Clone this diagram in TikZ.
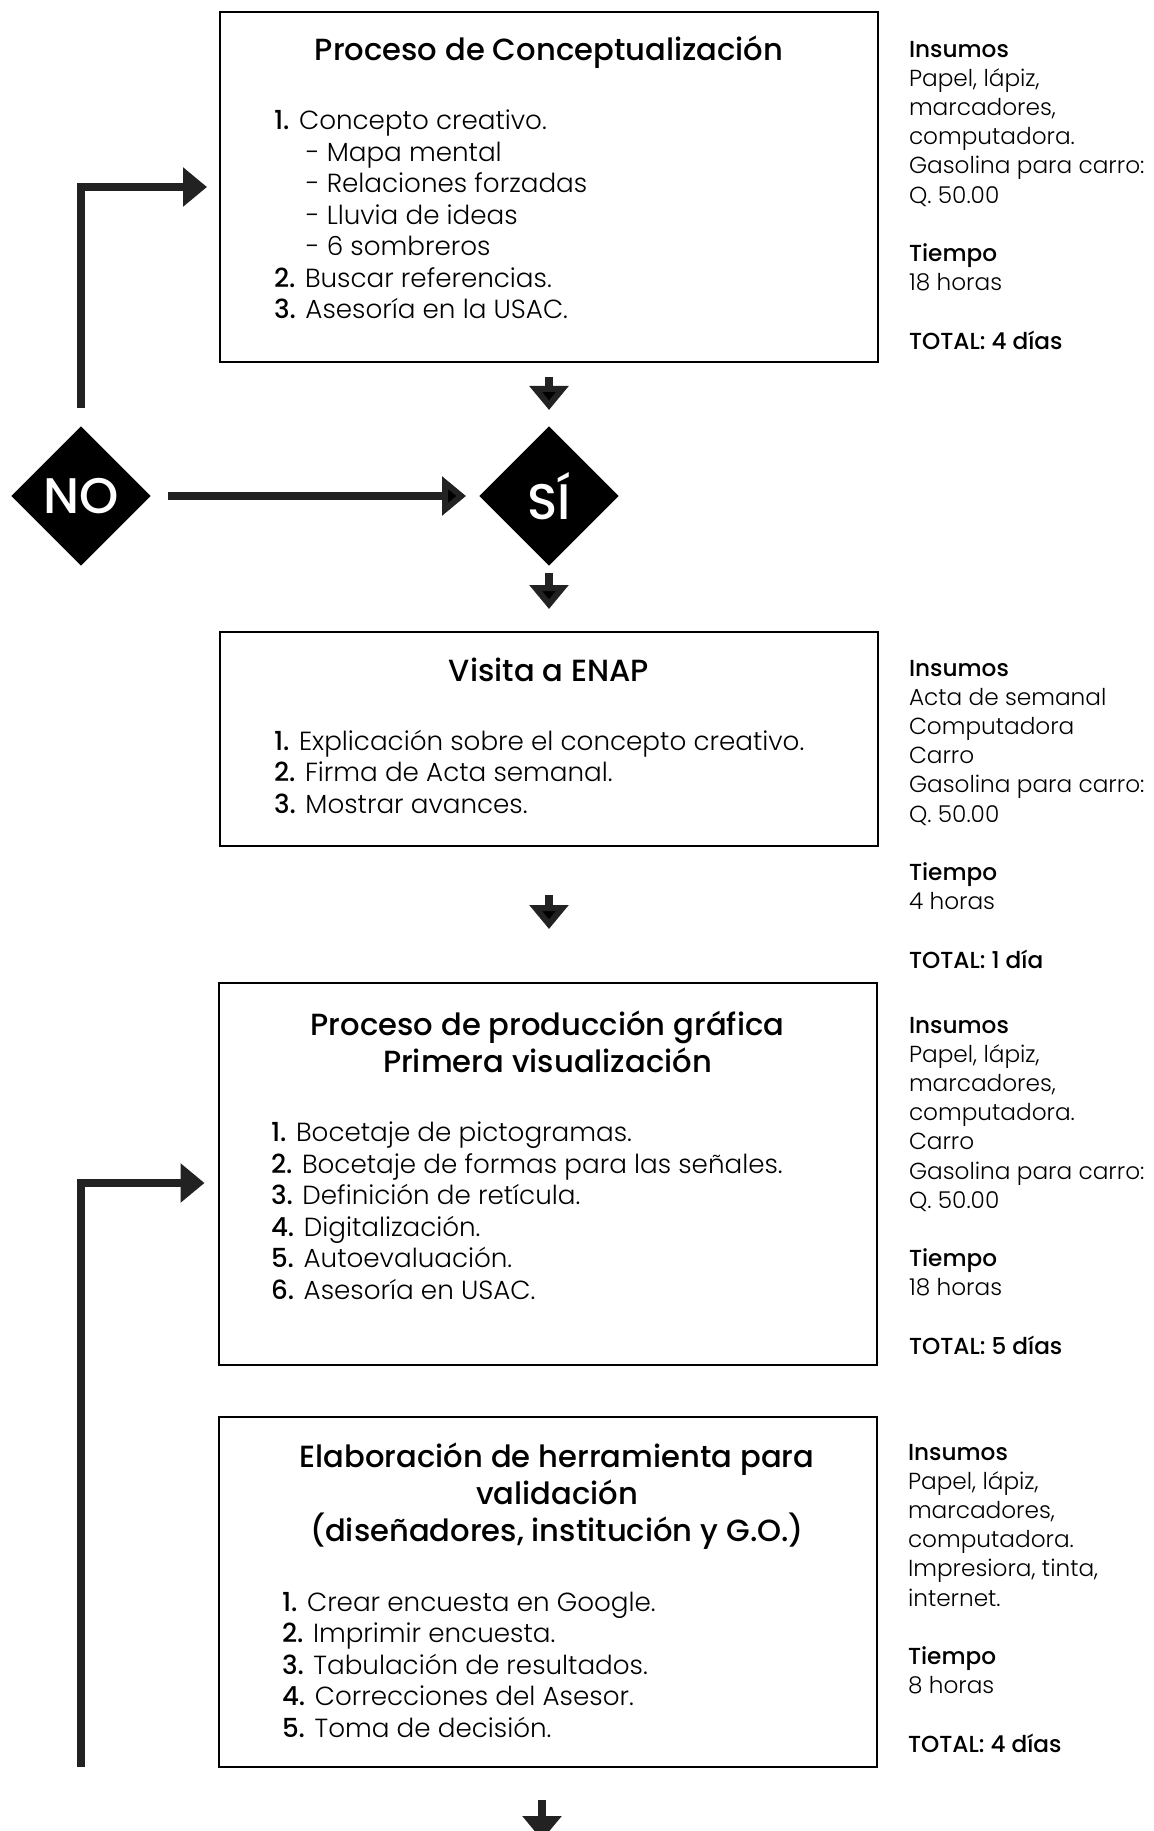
\documentclass[tikz,border=0pt]{standalone}
\usepackage{fontspec}
\setmainfont{Poppins}[UprightFont=* Light, BoldFont=* Medium]
\usetikzlibrary{arrows.meta,positioning,shapes.geometric}
\definecolor{flechagris}{HTML}{222222}

\begin{document}
\begin{tikzpicture}[x=0.5pt, y=-0.5pt, line width=1pt,
  caja/.style={draw, rectangle, minimum width=329pt, inner sep=0pt},
  titulo/.style={font=\fontsize{15.3}{18.5}\selectfont\bfseries, align=center},
  lista/.style={font=\fontsize{13.1}{15.75}\selectfont, align=left, anchor=north west, inner sep=0pt},
  info/.style={font=\fontsize{11.6}{14.6}\selectfont, align=left, anchor=north west, inner sep=0pt},
  decision/.style={diamond, aspect=1, fill=black, text=white, minimum size=70pt, inner sep=0pt, font=\fontsize{25}{25}\selectfont\bfseries},
  flecha/.style={-{Triangle[length=12pt,width=19pt]}, draw=flechagris, line width=4.25pt}]

  \useasboundingbox (0,0) rectangle (1153,1831);

  % cajas
  \node[caja, minimum height=175pt] (concepto) at (549,187) {};
  \node[caja, minimum height=107pt] (visita) at (549,739) {};
  \node[caja, minimum height=191pt] (produccion) at (547.5,1174) {};
  \node[caja, minimum height=175pt] (elaboracion) at (547.5,1592) {};

  \node[decision] (no) at (81,496) {NO};
  \node[decision] (si) at (549,496) {SÍ};

  \coordinate (retorno) at (81,1767);
  \coordinate (siguiente) at (542,1840);

  % titulos
  \node[titulo] at ([yshift=-20.5pt]concepto.north) {Proceso de Conceptualización};
  \node[titulo] at ([yshift=-19.5pt]visita.north) {Visita a ENAP};
  \node[titulo] at ([yshift=-30pt]produccion.north) {Proceso de producción gráfica\\Primera visualización};
  \node[titulo] at ([xshift=4.75pt,yshift=-40pt]elaboracion.north) {Elaboración de herramienta para\\validación\\(diseñadores, institución y G.O.)};

  % listas
  \node[lista] at (273,109) {\textbf{1.} Concepto creativo.\\
    \hspace*{16pt}- Mapa mental\\
    \hspace*{16pt}- Relaciones forzadas\\
    \hspace*{16pt}- Lluvia de ideas\\
    \hspace*{16pt}- 6 sombreros\\
    \textbf{2.} Buscar referencias.\\
    \textbf{3.} Asesoría en la USAC.};
  \node[lista] at (273,729) {\textbf{1.} Explicación sobre el concepto creativo.\\
    \textbf{2.} Firma de Acta semanal.\\
    \textbf{3.} Mostrar avances.};
  \node[lista] at (270,1121) {\textbf{1.} Bocetaje de pictogramas.\\
    \textbf{2.} Bocetaje de formas para las señales.\\
    \textbf{3.} Definición de retícula.\\
    \textbf{4.} Digitalización.\\
    \textbf{5.} Autoevaluación.\\
    \textbf{6.} Asesoría en USAC.};
  \node[lista] at (281,1591) {\textbf{1.} Crear encuesta en Google.\\
    \textbf{2.} Imprimir encuesta.\\
    \textbf{3.} Tabulación de resultados.\\
    \textbf{4.} Correcciones del Asesor.\\
    \textbf{5.} Toma de decisión.};

  % insumos y tiempo
  \node[info] at (908,40) {\textbf{Insumos}\\Papel, lápiz,\\marcadores,\\computadora.\\Gasolina para carro:\\Q. 50.00\\[14.6pt]
    \textbf{Tiempo}\\18 horas\\[14.6pt]\textbf{TOTAL: 4 días}};
  \node[info] at (908,659) {\textbf{Insumos}\\Acta de semanal\\Computadora\\Carro\\Gasolina para carro:\\Q. 50.00\\[14.6pt]
    \textbf{Tiempo}\\4 horas\\[14.6pt]\textbf{TOTAL: 1 día}};
  \node[info] at (908,1016) {\textbf{Insumos}\\Papel, lápiz,\\marcadores,\\computadora.\\Carro\\Gasolina para carro:\\Q. 50.00\\[14.6pt]
    \textbf{Tiempo}\\18 horas\\[14.6pt]\textbf{TOTAL: 5 días}};
  \node[info] at (907,1443) {\textbf{Insumos}\\Papel, lápiz,\\marcadores,\\computadora.\\Impresiora, tinta,\\internet.\\[14.6pt]
    \textbf{Tiempo}\\8 horas\\[14.6pt]\textbf{TOTAL: 4 días}};

  % flechas
  \path[flecha]
    (concepto) edge[shorten <=7pt, shorten >=7.5pt] (si)
    (si) edge[shorten <=3pt, shorten >=11pt] (visita)
    (visita) edge[shorten <=24pt, shorten >=26.5pt] (visita |- produccion.north)
    (no) edge[shorten <=8pt, shorten >=6pt] (si);

  \draw[flecha, shorten <=8.5pt, shorten >=6pt] (no) |- (concepto);
  \draw[flecha, shorten >=6.5pt] (retorno) |- ([yshift=-4.5pt]produccion.west);
  \draw[flecha, shorten <=16pt] (elaboracion.south -| siguiente) -- (siguiente);

\end{tikzpicture}
\end{document}
